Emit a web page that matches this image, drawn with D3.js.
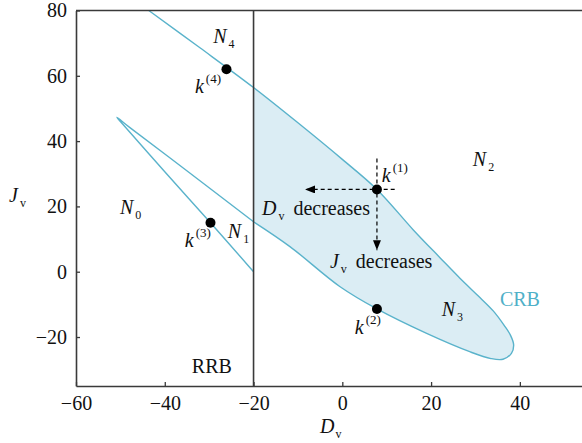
<!DOCTYPE html>
<html>
<head>
<meta charset="utf-8">
<script src="https://cdn.jsdelivr.net/npm/d3@7"></script>
<style>
  body { margin: 0; background: #fff; }
  svg text { font-family: "Liberation Serif", "Times New Roman", "DejaVu Serif", serif !important; }
</style>
</head>
<body>
<div id="chart"></div>
<script>
// CRB boundary, traced as one continuous curve (Dv, Jv)
const crbMain = [
  [-43.6, 80], [-32, 68.5], [-20, 56.4], [-10, 45.6], [0, 34.4], [7.8, 25.2],
  [16, 12.8], [22, 4.3], [26.5, -2], [31, -7.9], [34, -12], [36.5, -16.5],
  [37.9, -19.5], [38.6, -22.4], [38.1, -25], [36.2, -26.8], [33.5, -26.6],
  [28.7, -24.5], [19, -18.9], [7.8, -11.4], [-0.5, -4.6], [-11.8, 7.7], [-20, 15.3]
];
// narrow loop left of RRB
const crbLoop = [
  [-20, 15.3], [-35.4, 31.3], [-48, 44.3], [-50.8, 47.3],
  [-49.6, 45.4], [-40, 30.6], [-29.7, 15], [-20, 0]
];
const rrbX = -20;

const pointNames = ["1", "2", "3", "4"];
const pointDv = [7.8, 7.8, -29.7, -26.1];
const pointJv = [25.2, -11.4, 15.0, 62.0];

const xTicks = [-60, -40, -20, 0, 20, 40];
const yTicks = [-20, 0, 20, 40, 60, 80];

// dashed guides from k(1), in data units
const arrowH = [[11.8, 25.2], [-8.4, 25.2]];
const arrowV = [[7.8, 34.7], [7.8, 6.6]];

const width = 582, height = 443;
const margin = { top: 10.5, right: 0, bottom: 57, left: 76 };

const x = d3.scaleLinear().domain([-60, 54]).range([margin.left, width - margin.right]);
const y = d3.scaleLinear().domain([-35, 80]).range([height - margin.bottom, margin.top]);

const lineCol = "#5ab3cb";
const fillCol = "#dbedf4";
const axisCol = "#3a3a3a";

const svg = d3.select("#chart").append("svg")
  .attr("width", width).attr("height", height);

svg.append("defs").append("marker")
  .attr("id", "head")
  .attr("viewBox", "0 0 10 8")
  .attr("refX", 10).attr("refY", 4)
  .attr("markerWidth", 10).attr("markerHeight", 8)
  .attr("markerUnits", "userSpaceOnUse")
  .attr("orient", "auto")
  .append("path").attr("d", "M0,0L10,4L0,8Z").attr("fill", "#000");

const line = d3.line().x(d => x(d[0])).y(d => y(d[1])).curve(d3.curveCatmullRom.alpha(0.5));

// shaded region right of RRB
svg.append("path")
  .attr("d", line(crbMain.slice(2)) + "Z")
  .attr("fill", fillCol)
  .attr("stroke", "none");

svg.append("path")
  .attr("d", line(crbMain))
  .attr("fill", "none")
  .attr("stroke", lineCol)
  .attr("stroke-width", 1.4);

svg.append("path")
  .attr("d", line(crbLoop))
  .attr("fill", "none")
  .attr("stroke", lineCol)
  .attr("stroke-width", 1.4);

// axes
const fmt = d => d < 0 ? "\u2212" + Math.abs(d) : d;
const xAxis = d3.axisBottom(x).tickValues(xTicks).tickSizeInner(-4).tickSizeOuter(0).tickPadding(10).tickFormat(fmt);
const yAxis = d3.axisLeft(y).tickValues(yTicks).tickSizeInner(-4).tickSizeOuter(0).tickPadding(9).tickFormat(fmt);

const styleAxis = g => {
  g.attr("font-family", null);
  g.select(".domain").attr("stroke", axisCol).attr("stroke-width", 1.6);
  g.selectAll(".tick line").attr("stroke", axisCol).attr("stroke-width", 1.3);
  g.selectAll(".tick text").attr("fill", "#111").attr("font-size", 20);
};

svg.append("g").attr("transform", `translate(0,${y(-35)})`).call(xAxis).call(styleAxis);
svg.append("g").attr("transform", `translate(${x(-60)},0)`).call(yAxis).call(styleAxis);

// top frame
svg.append("line")
  .attr("x1", x(-60)).attr("x2", width).attr("y1", y(80)).attr("y2", y(80))
  .attr("stroke", axisCol).attr("stroke-width", 1.6);

// RRB line
svg.append("line")
  .attr("x1", x(rrbX)).attr("x2", x(rrbX)).attr("y1", y(80)).attr("y2", y(-35))
  .attr("stroke", axisCol).attr("stroke-width", 1.6);

// dashed guides with arrowheads
[arrowH, arrowV].forEach(a => {
  svg.append("line")
    .attr("x1", x(a[0][0])).attr("y1", y(a[0][1]))
    .attr("x2", x(a[1][0])).attr("y2", y(a[1][1]))
    .attr("stroke", "#000").attr("stroke-width", 1.2)
    .attr("stroke-dasharray", "4,3")
    .attr("marker-end", "url(#head)");
});

// points
svg.append("g").selectAll("circle")
  .data(pointNames)
  .join("circle")
  .attr("cx", (d, i) => x(pointDv[i]))
  .attr("cy", (d, i) => y(pointJv[i]))
  .attr("r", 5)
  .attr("fill", "#000");

// italic symbol + sub/superscript
function label(px, py, main, opts = {}) {
  const t = svg.append("text")
    .attr("x", x(px)).attr("y", y(py))
    .attr("font-size", 20)
    .attr("fill", opts.color || "#111");
  t.append("tspan").attr("font-style", opts.upright ? "normal" : "italic").text(main);
  if (opts.sub) {
    t.append("tspan").attr("font-size", 12).attr("dx", 2).attr("dy", 5).text(opts.sub);
  }
  if (opts.sup) {
    t.append("tspan").attr("font-size", 13).attr("dx", 2).attr("dy", -10).text(opts.sup);
  }
  if (opts.rest) {
    const back = opts.sub ? -5 : opts.sup ? 10 : 0;
    t.append("tspan").attr("dx", 9).attr("dy", back).text(opts.rest);
  }
  return t;
}

label(-29.1, 70.0, "N", { sub: "4" });
label(-50.1, 17.7, "N", { sub: "0" });
label(-25.8, 10.3, "N", { sub: "1" });
label(29.4, 32.4, "N", { sub: "2" });
label(22.4, -13.6, "N", { sub: "3" });
label(-33.2, 54.7, "k", { sup: "(4)" });
label(-35.5, 7.6, "k", { sup: "(3)" });
label(8.9, 27.5, "k", { sup: "(1)" });
label(2.8, -19.1, "k", { sup: "(2)" });
label(-18.1, 17.4, "D", { sub: "v", rest: "decreases" });
label(-2.8, 1.1, "J", { sub: "v", rest: "decreases" });
label(35.5, -10.5, "CRB", { upright: true, color: "#4fb0c8" });
label(-33.9, -31.0, "RRB", { upright: true });

// axis titles
svg.append("text").attr("x", 9).attr("y", 202).attr("font-size", 20).attr("fill", "#111")
  .call(t => {
    t.append("tspan").attr("font-style", "italic").text("J");
    t.append("tspan").attr("font-size", 12).attr("dx", 2).attr("dy", 5).text("v");
  });
svg.append("text").attr("x", 320).attr("y", 433).attr("font-size", 20).attr("fill", "#111")
  .call(t => {
    t.append("tspan").attr("font-style", "italic").text("D");
    t.append("tspan").attr("font-size", 12).attr("dx", 1).attr("dy", 5).text("v");
  });
</script>
</body>
</html>
